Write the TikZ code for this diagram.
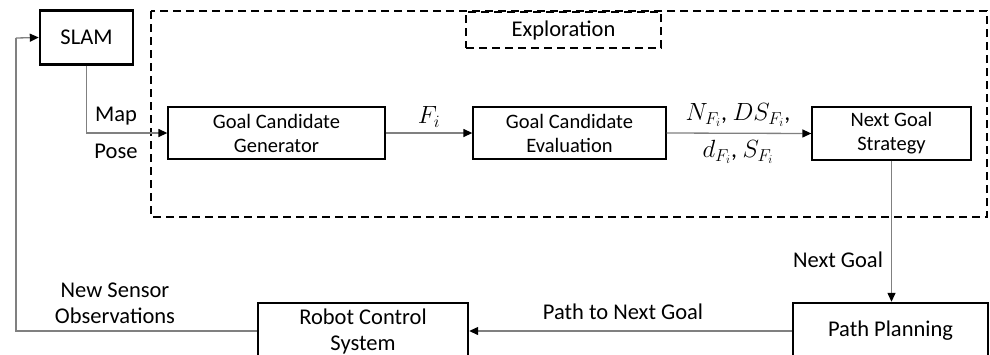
\documentclass[tikz,border=0pt]{standalone}
\usepackage{fontspec}
\setmainfont{Carlito}
\usetikzlibrary{arrows.meta,positioning}

\tikzset{
  bigtext/.style={font=\fontsize{22.5}{26}\selectfont},
  smalltext/.style={font=\fontsize{20.5}{24}\selectfont},
  heavybox/.style={draw=black, line width=2.4pt, align=center, inner sep=0pt, bigtext},
  lightbox/.style={draw=black, line width=1.3pt, align=center, inner sep=0pt, smalltext},
  flow/.style={draw=black!50, line width=1.3pt,
    -{Triangle[length=9pt,width=8pt,color=black]}},
  plain/.style={draw=black!50, line width=1.3pt},
  tag/.style={align=center, inner sep=0pt, bigtext},
  mathtag/.style={align=center, inner sep=0pt, font=\fontsize{24}{28}\selectfont},
}

\begin{document}
\begin{tikzpicture}[x=1pt,y=-1pt]
\useasboundingbox (0,0) rectangle (990,354);
\clip (0,0) rectangle (990,354);

% exploration module frame
\draw[line width=2.4pt, dash pattern=on 8pt off 5pt] (151,11) rectangle (987,217);
\node[draw=black, line width=2.2pt, dash pattern=on 8pt off 5pt,
      minimum width=195pt, minimum height=36pt, inner sep=0pt, bigtext]
      (expl) at (563.5,30) {Exploration};

% blocks
\node[heavybox, minimum width=93pt, minimum height=54pt] (slam) at (86.5,37.5) {SLAM};
\node[lightbox, minimum width=217pt, minimum height=52pt] (gcg) at (276.5,133) {Goal Candidate\\Generator};
\node[lightbox, minimum width=193pt, minimum height=52pt] (gce) at (569.5,133) {Goal Candidate\\Evaluation};
\node[lightbox, minimum width=159pt, minimum height=53pt] (ngs) at (891.5,133.5) {Next Goal\\Strategy};
\node[heavybox, minimum width=210pt, minimum height=56pt] (rcs) at (363,331) {Robot Control\\System};
\node[heavybox, minimum width=195pt, minimum height=56pt] (pp) at (890.5,331) {Path Planning};

% connectors
\draw[flow] (slam.south) |- (gcg.west);
\draw[flow] (gcg.east) -- (gce.west);
\draw[flow] (gce.east) -- (ngs.west);
\draw[flow] (ngs.south) -- (ngs.south |- pp.north);
\draw[flow] (pp.west) -- (rcs.east);
\coordinate (loopbot) at (16,331);
\coordinate (looptop) at (16,38);
\draw[plain] (rcs.west) -- (loopbot) -- (looptop);
\draw[flow] (looptop) -- (slam.west);

% connector labels
\node[tag] (lmap) at (116,116) {Map};
\node[tag] (lpose) at (116,151) {Pose};
\node[mathtag] (lfi) at (429,117) {$F_i$};
\node[mathtag] (lnds) at (738,115) {$N_{F_i}$, $DS_{F_i}$,};
\node[mathtag] (lds) at (738,152) {$d_{F_i}$, $S_{F_i}$};
\node[tag] (lnext) at (838,260) {Next Goal};
\node[tag] (lpath) at (623,312) {Path to Next Goal};
\node[tag] (lsens) at (115,303) {New Sensor\\Observations};
\end{tikzpicture}
\end{document}
